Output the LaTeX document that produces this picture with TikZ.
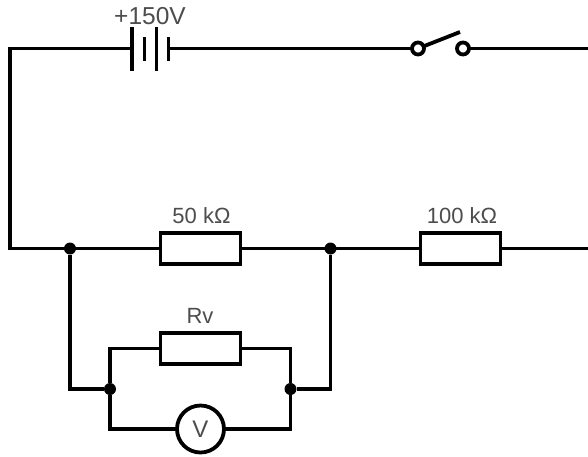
\documentclass[tikz,border=0pt]{standalone}
\usepackage{fontspec}
\setmainfont{Liberation Sans}
\definecolor{lbl}{HTML}{4D4D4D}
\tikzset{
  x=1pt,y=-1pt,
  wire/.style={line width=3.8pt,black,line join=miter},
  res/.style={draw=black,line width=3.8pt,fill=white,minimum width=80pt,minimum height=31pt,inner sep=0pt,outer sep=0pt,rectangle},
  lab/.style={text=lbl,font=\fontsize{22}{22}\selectfont,inner sep=0pt},
  dot/.style={circle,fill=black,minimum size=12pt,inner sep=0pt,outer sep=0pt},
  term/.style={circle,draw=black,line width=3.8pt,fill=white,minimum size=12pt,inner sep=0pt,outer sep=0pt},
  meter/.style={circle,draw=black,line width=3.8pt,fill=white,minimum size=47pt,inner sep=0pt,outer sep=0pt,text=lbl,font=\fontsize{24}{24}\selectfont},
}
\begin{document}
\begin{tikzpicture}
\useasboundingbox (0,0) rectangle (588,456);
\fill[white] (0,0) rectangle (588,456);
% free ends and corners
\coordinate (tl) at (10,48.5);
\coordinate (ml) at (10,248.5);
\coordinate (tr) at (588,48.5);
\coordinate (mr) at (588,248.5);
% battery plates
\coordinate (p1t) at (132,27); \coordinate (p1b) at (132,71);
\coordinate (p2t) at (144.5,37); \coordinate (p2b) at (144.5,61);
\coordinate (p3t) at (156.5,27); \coordinate (p3b) at (156.5,71);
\coordinate (p4t) at (168.5,37); \coordinate (p4b) at (168.5,61);
\coordinate (p1) at (132,48.5); \coordinate (p4) at (168.5,48.5);
\coordinate (lever) at (460,32);
% switch terminals
\coordinate (sc1) at (418,48.5);
\coordinate (sc2) at (463,48.5);
% wires
\draw[wire] (p1) -- (tl) -- (ml) -- (mr);
\draw[wire] (p4) -- (sc1);
\draw[wire] (sc2) -- (tr);
\draw[wire] (p1t) -- (p1b);
\draw[wire] (p2t) -- (p2b);
\draw[wire] (p3t) -- (p3b);
\draw[wire] (p4t) -- (p4b);
\draw[wire] (sc1) -- (lever);
\node[term] (s1) at (sc1) {};
\node[term] (s2) at (sc2) {};
% resistors
\node[res] (r1) at (200.5,248.5) {};
\node[res] (r2) at (460.5,248.5) {};
% junctions and lower branch
\node[dot] (j1) at (70,248.5) {};
\node[dot] (j2) at (330.5,248.5) {};
\node[dot] (j3) at (110,389) {};
\node[dot] (j4) at (290.5,389) {};
\draw[wire] (j1) |- (j3);
\draw[wire] (j2) |- (j4);
\draw[wire] (j3) |- (200.5,348.5) -| (j4);
\draw[wire] (j3) |- (200.5,429) -| (j4);
\node[res] (r3) at (200.5,348.5) {};
\node[meter] (vm) at (200.5,429) {V};
% labels
\node[lab,font=\fontsize{24.5}{24.5}\selectfont] (t0) at (150,16) {+150V};
\node[lab] (t1) at (201.5,215.5) {50 k\symbol{"03A9}};
\node[lab] (t2) at (462,215.5) {100 k\symbol{"03A9}};
\node[lab] (t3) at (200,316) {Rv};
\end{tikzpicture}
\end{document}
